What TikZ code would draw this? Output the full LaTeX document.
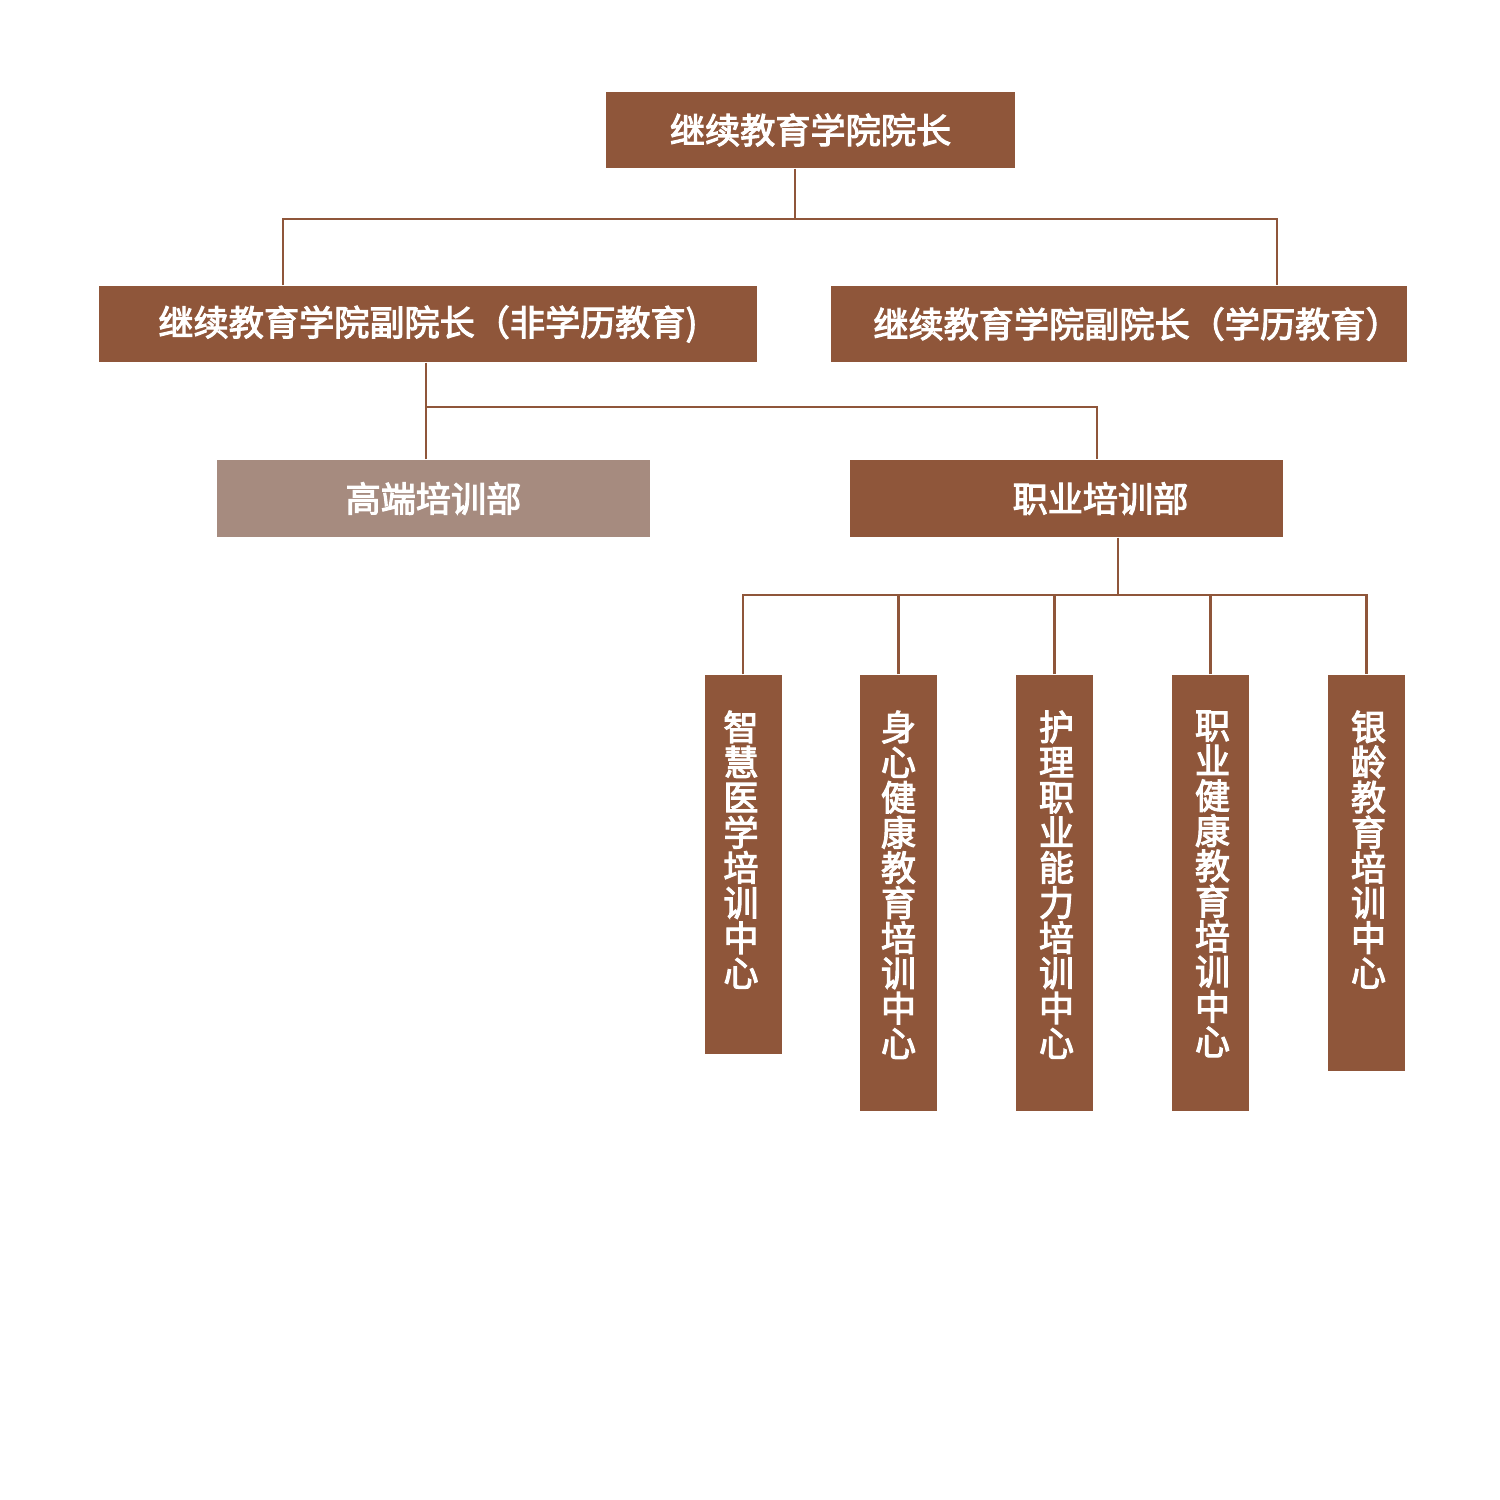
\documentclass[tikz,border=0pt]{standalone}
\usepackage{fontspec}
\newfontfamily\cjk[FakeBold=3]{Noto Sans CJK SC}
\definecolor{brown1}{HTML}{8F563A}
\definecolor{brown2}{HTML}{A68B7F}
\begin{document}
\begin{tikzpicture}[align=center,
        box/.style={fill=brown1,text=white,inner sep=0pt,font=\cjk\fontsize{10pt}{10pt}\selectfont},
        colbox/.style={box,minimum width=0.77cm},
        coltext/.style={text=white,inner sep=0pt,anchor=north,font=\cjk\fontsize{10pt}{10pt}\selectfont},
        link/.style={draw=brown1,line width=0.6pt}]
        \useasboundingbox (0,0) rectangle (15,-15);
        \node[box,minimum width=4.09cm,minimum height=0.76cm](n0) at (8.105,-1.30) {继续教育学院院长};
        \node[box,minimum width=6.58cm,minimum height=0.76cm](n11) at (4.28,-3.24) {继续教育学院副院长（非学历教育)};
        \node[box,minimum width=5.76cm,minimum height=0.76cm](n12) at (11.19,-3.24) {\hspace*{0.36cm}继续教育学院副院长（学历教育）};
        \node[box,fill=brown2,minimum width=4.33cm,minimum height=0.77cm](n21) at (4.335,-4.985) {高端培训部};
        \node[box,minimum width=4.33cm,minimum height=0.77cm](n22) at (10.665,-4.985) {\hspace*{0.68cm}职业培训部};
        \node[colbox,minimum height=3.79cm](n31) at (7.43,-8.645) {};
        \node[colbox,minimum height=4.36cm](n32) at (8.985,-8.93) {};
        \node[colbox,minimum height=4.36cm](n33) at (10.545,-8.93) {};
        \node[colbox,minimum height=4.36cm](n34) at (12.105,-8.93) {};
        \node[colbox,minimum height=3.96cm](n35) at (13.665,-8.73) {};
        \node[coltext](m31) at (7.41,-7.10) {智\\慧\\医\\学\\培\\训\\中\\心};
        \node[coltext](m32) at (8.985,-7.10) {身\\心\\健\\康\\教\\育\\培\\训\\中\\心};
        \node[coltext](m33) at (10.565,-7.10) {护\\理\\职\\业\\能\\力\\培\\训\\中\\心};
        \node[coltext](m34) at (12.125,-7.10) {职\\业\\健\\康\\教\\育\\培\\训\\中\\心};
        \node[coltext](m35) at (13.685,-7.10) {银\\龄\\教\\育\\培\\训\\中\\心};
        \coordinate(j1) at (7.95,-2.19);
        \coordinate(j2) at (4.26,-4.07);
        \coordinate(j3) at (11.18,-5.95);
        % president to vice presidents
        \draw[link](n0.south -| j1) -- (j1);
        \draw[link]([xshift=1.85cm]n11.north west) |- (j1) -| ([xshift=4.47cm]n12.north west);
        % vice president to departments
        \draw[link](n11.south -| j2) -- (j2);
        \draw[link](n21.north -| j2) -- (j2) -| ([xshift=2.48cm]n22.north west);
        % department to centres
        \draw[link](n22.south -| j3) -- (j3);
        \draw[link](n31.north) |- (j3) -| (n35.north);
        \foreach \i in {32,33,34}
            \draw[link](n\i.north) -- (n\i.north |- j3);
    \end{tikzpicture}
\end{document}
